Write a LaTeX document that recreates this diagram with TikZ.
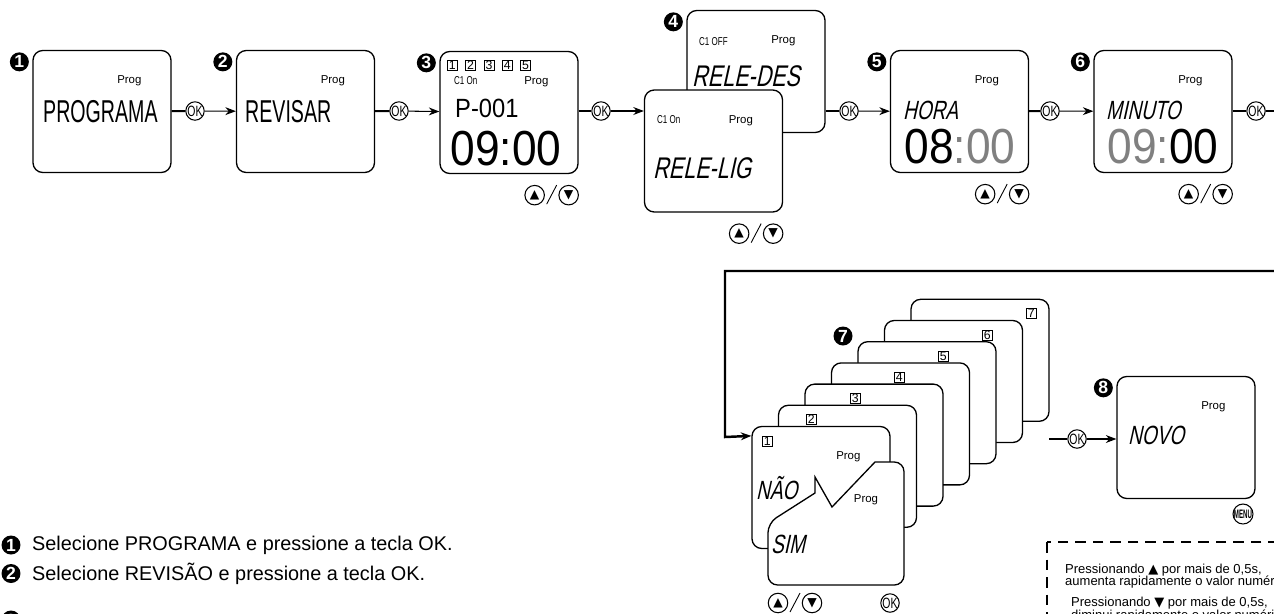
\documentclass[tikz,border=0pt]{standalone}
\usepackage{fontspec}
\setmainfont{Liberation Sans}
\newfontfamily\segfont[FakeStretch=0.62]{Liberation Sans}
\newfontfamily\segslant[FakeStretch=0.72,FakeSlant=0.22]{Liberation Sans}
\newfontfamily\segdigit[FakeStretch=0.9]{Liberation Sans}
\newfontfamily\narrowfont[FakeStretch=0.7]{Liberation Sans}
\newfontfamily\menufont[FakeStretch=0.5]{Liberation Sans}
\newfontfamily\symfont{DejaVu Sans}
\usetikzlibrary{arrows.meta}
\definecolor{seggray}{gray}{0.5}
\tikzset{
  screen/.style={draw,line width=0.75pt,rounded corners=5.5pt,fill=white,
    minimum width=2.76cm,minimum height=2.44cm,inner sep=0pt},
  badge/.style={circle,fill=black,text=white,inner sep=0pt,minimum size=0.38cm,
    font=\bfseries\fontsize{10}{10}\selectfont},
  okkey/.style={circle,draw,fill=white,line width=0.6pt,inner sep=0pt,minimum size=0.36cm,
    font=\narrowfont\fontsize{8.5}{8.5}\selectfont},
  arrkey/.style={circle,draw,line width=0.6pt,inner sep=0pt,minimum size=0.39cm,
    font=\symfont\fontsize{7}{7}\selectfont},
  digbox/.style={draw,line width=0.4pt,inner sep=0pt,minimum size=0.2cm,
    font=\fontsize{7}{7}\selectfont},
  progtxt/.style={font=\fontsize{6.5}{6.5}\selectfont},
  smallseg/.style={anchor=west,font=\narrowfont\fontsize{6.5}{6.5}\selectfont},
  bigword/.style={anchor=west,font=\segfont\fontsize{18}{18}\selectfont},
  slword/.style={anchor=west,font=\segslant\fontsize{15}{15}\selectfont},
  clock/.style={font=\segdigit\fontsize{28}{28}\selectfont},
  feed/.style={line width=1.1pt},
  into/.style={line width=0.6pt,-{Stealth[length=6pt,width=4.5pt]}},
  loopline/.style={line width=1.4pt,-{Stealth[length=6pt,width=4.5pt]}},
  note/.style={anchor=west,font=\fontsize{7.4}{8}\selectfont},
  step text/.style={anchor=west,font=\fontsize{11.3}{12}\selectfont},
}
\begin{document}
\begin{tikzpicture}[x=0.02cm,y=-0.02cm]
\useasboundingbox (0,0) rectangle (1274,613);
\clip (0,0) rectangle (1274,613);
%
\node[screen] (b1) at (102,111.5) {};
\node[screen] (b2) at (305.5,111.5) {};
\node[screen] (b3) at (509,112.5) {};
\node[screen] (b4a) at (756,71.5) {};
\node[smallseg] at (693,42) {C1 OFF};
\node[slword,font=\segslant\fontsize{17}{17}\selectfont] at (686,76) {RELE-DES};
\node[screen] (b4b) at (713.5,151) {};
\node[screen] (b5) at (959.5,111.5) {};
\node[screen] (b6) at (1163,111.5) {};
%
\node[bigword] at (37,112) {PROGRAMA};
\node[bigword] at (239,112) {REVISAR};
\foreach \i in {1,...,5}
  \node[digbox] at ([shift={({13+18.3*(\i-1)},14)}]b3.north west) {\i};
\node[smallseg] at (448,81) {C1 On};
\node[anchor=west,font=\segdigit\fontsize{15}{15}\selectfont] at (449,108) {P-001};
\node[clock] at (506,149) {09:00};
\node[smallseg] at (651,120) {C1 On};
\node[slword,font=\segslant\fontsize{17}{17}\selectfont] at (647,168) {RELE-LIG};
\node[slword] at (897,110) {HORA};
\node[clock] at (960,147) {08{\color{seggray}:00}};
\node[slword] at (1100,110) {MINUTO};
\node[clock] at (1163,147) {{\color{seggray}09:}00};
%
\foreach \k in {7,...,1}{
  \node[screen] (s\k) at ({821+26.5*(\k-1)},{487.5-21.2*(\k-1)}) {};
  \node[digbox] at ([shift={({16+17.5*(\k-1)},15)}]s\k.north west) {\k};
}
\node[badge] (n7) at (843,336) {7};
\node[slword] at (750,488) {NÃO};
\draw[line width=0.75pt,fill=white] (768,523) -- (815,493) -- (815,477) -- (832,507) -- (875,462)
  [rounded corners=5.5pt] -- (904,462) -- (904,585) -- (768,585) -- cycle;
\node[progtxt] at (866,500) {Prog};
\node[slword] at (765,544) {SIM};
%
\node[screen] (b8) at (1186,437.5) {};
\node[slword] at (1122,435) {NOVO};
%
\foreach \b in {b1,b2,b3,b4a,b4b,b5,b6,s1,b8}
  \node[progtxt] at ([shift={(97,31)}]\b.north west) {Prog};
\foreach \b/\n in {b1/1,b2/2,b3/3,b4a/4,b5/5,b6/6,b8/8}
  \node[badge] (n\n) at ([shift={(-13,12)}]\b.north west) {\n};
%
\foreach \b/\m in {b3/3,b4b/4,b5/5,b6/6}{
  \node[arrkey] (up\m) at ([shift={(-44,21)}]\b.south east) {▲};
  \node[arrkey] (dn\m) at ([shift={(-10,21)}]\b.south east) {▼};
  \draw[line width=0.5pt] ([shift={(-32,30)}]\b.south east) -- ([shift={(-22,11)}]\b.south east);
}
\node[arrkey] (up7) at (778,603) {▲};
\node[arrkey] (dn7) at (812,603) {▼};
\draw[line width=0.5pt] (790,612) -- (800,593);
\node[okkey] (ok8) at (890,603) {OK};
\node[circle,draw,line width=0.6pt,inner sep=0pt,minimum size=0.36cm,
  font=\menufont\bfseries\fontsize{7}{7}\selectfont] (menu) at (1243,514) {MENU};
%
\node[okkey] (ok1) at (195,111) {OK};
\node[okkey] (ok2) at (399,111) {OK};
\node[okkey] (ok3) at (601,111) {OK};
\node[okkey] (ok4) at (849,111) {OK};
\node[okkey] (ok5) at (1050,111) {OK};
\node[okkey] (ok6) at (1256,111) {OK};
\coordinate (off6) at (1290,111);
\foreach \a/\k/\b in {b1/ok1/b2,b2/ok2/b3,b5/ok5/b6}{
  \draw[feed] (\a) -- (\k);
  \draw[into] (\k) -- (\b);
}
\draw[feed] (b3.east |- ok3) -- (ok3);
\draw[into] (ok3) -- (ok3 -| b4b.west);
\draw[feed] (b4a.east |- ok4) -- (ok4);
\draw[into] (ok4) -- (b5);
\draw[feed] (b6.east |- ok6) -- (ok6);
\draw[into] (ok6) -- (off6);
%
\coordinate (loopin) at (1290,271);
\draw[loopline] (loopin) -| (725,437) -- ([shift={(0,10)}]s1.north west);
\coordinate (st) at (1049,439);
\node[okkey] (ok7) at (1077,439) {OK};
\draw[feed] (st) -- (ok7);
\draw[into] (ok7) -- (ok7 -| b8.west);
%
\draw[line width=0.9pt,dash pattern=on 6pt off 4pt] (1047,542) rectangle (1330,700);
\node[note] at (1059,570) {Pressionando {\symfont▲} por mais de 0,5s,};
\node[note] at (1059,582) {aumenta rapidamente o valor numérico.};
\node[note] at (1065,603) {Pressionando {\symfont▼} por mais de 0,5s,};
\node[note] at (1065,616) {diminui rapidamente o valor numérico.};
%
\node[badge] (l1) at (11,545) {1};
\node[step text] at (26,545) {Selecione PROGRAMA e pressione a tecla OK.};
\node[badge] (l2) at (11,573.5) {2};
\node[step text] at (26,573.5) {Selecione REVISÃO e pressione a tecla OK.};
\node[badge] (l3) at (11,620) {3};
\end{tikzpicture}
\end{document}
